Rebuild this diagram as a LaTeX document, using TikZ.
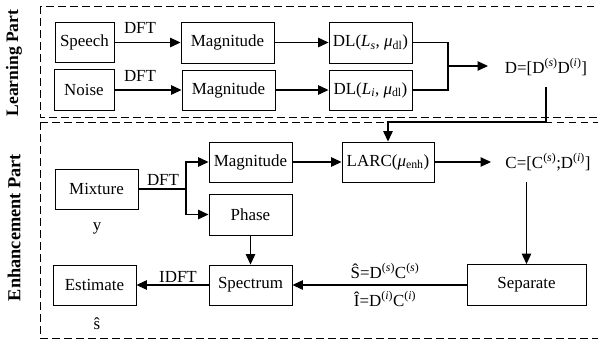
\documentclass[tikz,border=0pt]{standalone}
\usepackage{fontspec}
\setmainfont{Liberation Serif}
\usetikzlibrary{arrows.meta}
\begin{document}
\begin{tikzpicture}[x=1bp,y=-1bp,
  box/.style={draw, line width=0.9bp, inner sep=0pt, font=\fontsize{17}{20}\selectfont},
  lbl/.style={inner sep=0pt, anchor=base, font=\fontsize{17}{20}\selectfont},
  conn/.style={line width=1.2bp, -{Triangle[length=10.5bp,width=9.5bp]}},
  plainline/.style={line width=1.2bp},
  partbox/.style={dash pattern=on 7.5bp off 4.5bp, line width=0.9bp},
  parttext/.style={rotate=90, inner sep=0pt, font=\bfseries\fontsize{#1}{22}\selectfont}]
\useasboundingbox (0,0) rectangle (598,347);
\clip (0,0) rectangle (598,347);
% part frames
\draw[partbox] (40,6) rectangle (620,117);
\draw[partbox] (40,122) rectangle (620,338);
\node[parttext=17.6] (lp) at (14,63) {Learning Part};
\node[parttext=18.4] (ep) at (14,227.5) {Enhancement Part};
% learning part
\node[box, minimum width=59bp, minimum height=40bp] (speech) at (84.5,42.5) {Speech};
\node[box, minimum width=60bp, minimum height=41bp] (noise) at (84,90) {Noise};
\node[box, minimum width=93bp, minimum height=41bp] (mag1) at (227.5,42.5) {Magnitude};
\node[box, minimum width=93bp, minimum height=40bp] (mag2) at (228.5,90) {Magnitude};
\node[box, minimum width=83bp, minimum height=41bp] (dl1) at (370.5,42.5) {DL(\textit{L}\textsubscript{\textit{s}}, \textit{μ}\textsubscript{dl})};
\node[box, minimum width=83bp, minimum height=40bp] (dl2) at (370.5,90) {DL(\textit{L}\textsubscript{\textit{i}}, \textit{μ}\textsubscript{dl})};
\node[lbl] (D) at (546,73) {D=[D\textsuperscript{(\textit{s})}D\textsuperscript{(\textit{i})}]};
\node[lbl] (dft1) at (140,33) {DFT};
\node[lbl] (dft2) at (140,81) {DFT};
\draw[conn] (speech) -- (mag1);
\draw[conn] (noise) -- (mag2);
\draw[conn] (mag1) -- (dl1);
\draw[conn] (mag2) -- (dl2);
\coordinate (merge) at (448,66);
\coordinate (dIn) at (488,66);
\draw[plainline] (dl1.east) -| (merge);
\draw[plainline] (dl2.east) -| (merge);
\draw[conn] (merge) -- (dIn);
% enhancement part
\node[box, minimum width=83bp, minimum height=40bp] (mix) at (96.5,189) {Mixture};
\node[lbl] (y) at (97,230) {y};
\node[box, minimum width=83bp, minimum height=40bp] (mag3) at (250.5,162) {Magnitude};
\node[box, minimum width=83bp, minimum height=41bp] (phase) at (250.5,214.5) {Phase};
\node[box, minimum width=83bp, minimum height=40bp] (spec) at (250.5,285) {Spectrum};
\node[box, minimum width=83bp, minimum height=40bp] (est) at (94.5,285) {Estimate};
\node[lbl] (shat) at (97,329) {ŝ};
\node[box, minimum width=92bp, minimum height=40bp] (larc) at (388,162) {LARC(\textit{μ}\textsubscript{enh})};
\node[lbl] (C) at (548,168) {C=[C\textsuperscript{(\textit{s})};D\textsuperscript{(\textit{i})}]};
\node[box, minimum width=119bp, minimum height=41bp] (sep) at (526.5,285) {Separate};
\node[lbl] (dft3) at (163,185) {DFT};
\node[lbl] (idft) at (178,282) {IDFT};
\node[lbl] (sest) at (385,278) {Ŝ=D\textsuperscript{(\textit{s})}C\textsuperscript{(\textit{s})}};
\node[lbl] (iest) at (385,306) {Î=D\textsuperscript{(\textit{i})}C\textsuperscript{(\textit{i})}};
% connectors
\coordinate (dOut) at (546,87);
\coordinate (dTurn) at (546,122);
\draw[conn] (dOut) -- (dTurn) -| (larc.north);
\coordinate (br) at (186,189);
\draw[plainline] (mix.east) -- (br);
\draw[conn] (br) |- (mag3.west);
\draw[conn] (br) |- (phase.west);
\draw[conn] (mag3) -- (larc);
\coordinate (cIn) at (491,162);
\draw[conn] (larc.east) -- (cIn);
\coordinate (cOut) at (526.5,182);
\draw[conn] (cOut) -- (sep.north);
\draw[conn] (phase) -- (spec);
\draw[conn] (sep) -- (spec);
\draw[conn] (spec) -- (est);
\end{tikzpicture}
\end{document}
